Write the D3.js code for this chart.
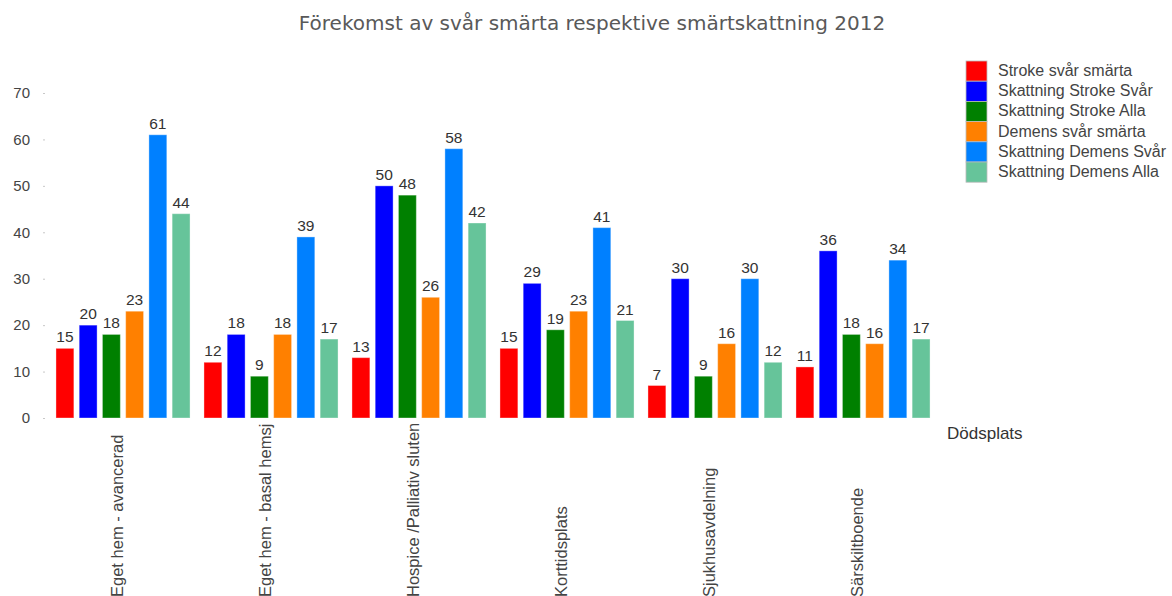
<!DOCTYPE html>
<html>
<head>
<meta charset="utf-8">
<script src="https://cdn.jsdelivr.net/npm/d3@7"></script>
<style>
  html, body { margin: 0; padding: 0; background: #fff; overflow: hidden; }
  svg { display: block; }
</style>
</head>
<body>
<svg id="chart" width="1172" height="596"></svg>
<script>
// Dödsplatser (kategorier på x-axeln)
const categories = [
  "Eget hem - avancerad",
  "Eget hem - basal hemsj",
  "Hospice /Palliativ sluten",
  "Korttidsplats",
  "Sjukhusavdelning",
  "Särskiltboende"
];

// Serier
const seriesNames = [
  "Stroke svår smärta",
  "Skattning Stroke Svår",
  "Skattning Stroke Alla",
  "Demens svår smärta",
  "Skattning Demens Svår",
  "Skattning Demens Alla"
];
const seriesColors = ["#ff0000", "#0000ff", "#008000", "#ff8000", "#0080ff", "#66c49a"];

const strokeSvarSmarta      = [15, 12, 13, 15, 7, 11];
const skattningStrokeSvar   = [20, 18, 50, 29, 30, 36];
const skattningStrokeAlla   = [18, 9, 48, 19, 9, 18];
const demensSvarSmarta      = [23, 18, 26, 23, 16, 16];
const skattningDemensSvar   = [61, 39, 58, 41, 30, 34];
const skattningDemensAlla   = [44, 17, 42, 21, 12, 17];

const seriesValues = [
  strokeSvarSmarta, skattningStrokeSvar, skattningStrokeAlla,
  demensSvarSmarta, skattningDemensSvar, skattningDemensAlla
];

const yTicks = [0, 10, 20, 30, 40, 50, 60, 70];

const svg = d3.select("#chart");
const sans = "'Liberation Sans', Arial, sans-serif";

// Rubrik
svg.append("text")
  .attr("x", 592)
  .attr("y", 30)
  .attr("text-anchor", "middle")
  .attr("font-family", "'DejaVu Sans', Verdana, sans-serif")
  .attr("font-size", 20)
  .attr("fill", "#595959")
  .text("Förekomst av svår smärta respektive smärtskattning 2012");

// Skalor
const x0 = d3.scaleBand().domain(categories).range([49, 937]).padding(0);
const x1 = d3.scaleBand().domain(seriesNames).range([0, x0.bandwidth()])
  .paddingInner(0.23).paddingOuter(0.3);
const y = d3.scaleLinear().domain([0, 70]).range([418, 93]);

// Y-axel
const yAxis = svg.append("g")
  .attr("transform", "translate(45,0)")
  .call(d3.axisLeft(y).tickValues(yTicks).tickSize(2).tickPadding(13));
yAxis.select(".domain").remove();
yAxis.selectAll(".tick line").attr("stroke", "#c8c8c8");
yAxis.selectAll(".tick text")
  .attr("font-family", sans)
  .attr("font-size", 15)
  .attr("fill", "#444");

// Staplar
const groups = svg.append("g").selectAll("g")
  .data(categories)
  .join("g")
  .attr("transform", d => `translate(${x0(d)},0)`);

groups.selectAll("rect")
  .data((d, i) => seriesNames.map((s, k) => ({ s, k, v: seriesValues[k][i] })))
  .join("rect")
  .attr("x", d => x1(d.s))
  .attr("y", d => y(d.v))
  .attr("width", x1.bandwidth())
  .attr("height", d => y(0) - y(d.v))
  .attr("fill", d => seriesColors[d.k])
  .attr("stroke", "rgba(255,255,255,0.35)")
  .attr("stroke-width", 1);

groups.selectAll("text")
  .data((d, i) => seriesNames.map((s, k) => ({ s, k, v: seriesValues[k][i] })))
  .join("text")
  .attr("x", d => x1(d.s) + x1.bandwidth() / 2)
  .attr("y", d => y(d.v) - 6)
  .attr("text-anchor", "middle")
  .attr("font-family", sans)
  .attr("font-size", 15.5)
  .attr("fill", "#333")
  .text(d => d.v);

// Kategorietiketter, roterade
svg.append("g").selectAll("text")
  .data(categories)
  .join("text")
  .attr("transform", d => `translate(${x0(d) + x0.bandwidth() / 2},597) rotate(-90)`)
  .attr("text-anchor", "start")
  .attr("font-family", sans)
  .attr("font-size", 16.5)
  .attr("fill", "#444")
  .text(d => d);

// Axeltitel
svg.append("text")
  .attr("x", 947)
  .attr("y", 439)
  .attr("font-family", sans)
  .attr("font-size", 17)
  .attr("fill", "#333")
  .text("Dödsplats");

// Teckenförklaring
const legend = svg.append("g").attr("transform", "translate(966,61)");
const rowH = 20.2;
legend.selectAll("rect")
  .data(seriesNames)
  .join("rect")
  .attr("x", 0)
  .attr("y", (d, i) => i * rowH)
  .attr("width", 21)
  .attr("height", rowH)
  .attr("fill", (d, i) => seriesColors[i])
  .attr("stroke", "#bbb")
  .attr("stroke-width", 0.8);

legend.selectAll("text")
  .data(seriesNames)
  .join("text")
  .attr("x", 32)
  .attr("y", (d, i) => i * rowH + 15)
  .attr("font-family", sans)
  .attr("font-size", 16)
  .attr("fill", "#444")
  .text(d => d);
</script>
</body>
</html>
